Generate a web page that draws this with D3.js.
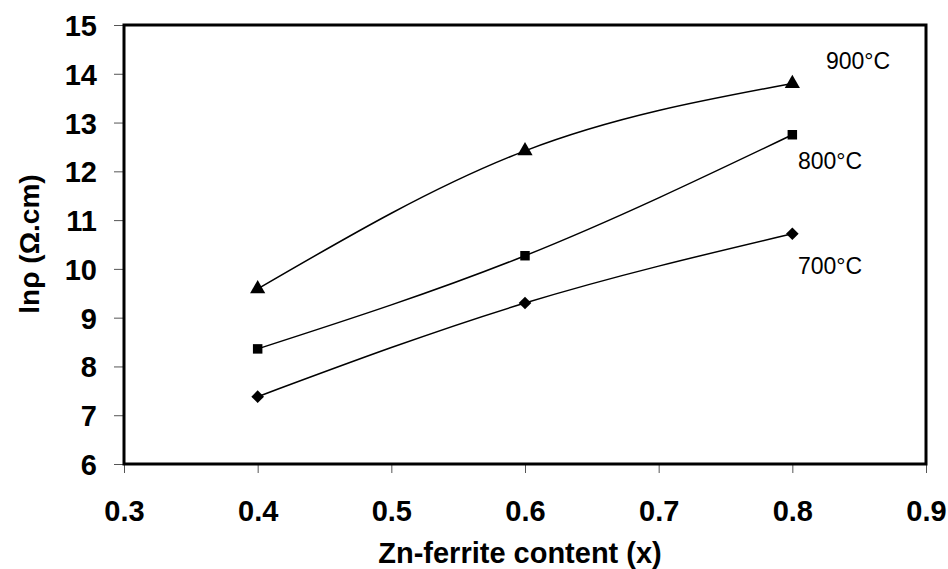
<!DOCTYPE html>
<html>
<head>
<meta charset="utf-8">
<script src="https://cdn.jsdelivr.net/npm/d3@7"></script>
<style>
  body { margin: 0; background: #fff; }
  text { font-family: Arial, "Liberation Sans", sans-serif; }
</style>
</head>
<body>
<svg id="chart"></svg>
<script>
// data
var xValues = [0.4, 0.6, 0.8];
var series900 = [9.59, 12.42, 13.8];
var series800 = [8.36, 10.27, 12.75];
var series700 = [7.38, 9.3, 10.72];
var seriesNames = ["900°C", "800°C", "700°C"];
var xTicks = [0.3, 0.4, 0.5, 0.6, 0.7, 0.8, 0.9];
var yTicks = [6, 7, 8, 9, 10, 11, 12, 13, 14, 15];

var width = 948, height = 569;
var margin = {left: 124, top: 25, right: 22, bottom: 105};

var svg = d3.select("#chart")
            .attr("width", width)
            .attr("height", height);

var x = d3.scaleLinear().domain([0.3, 0.9]).range([margin.left, width - margin.right]);
var y = d3.scaleLinear().domain([6, 15]).range([height - margin.bottom, margin.top]);

// axes
var xAxis = svg.append("g")
   .attr("transform", "translate(0," + (height - margin.bottom) + ")")
   .call(d3.axisBottom(x).tickValues(xTicks).tickFormat(d3.format(".1f")).tickSize(9).tickPadding(27));
var yAxis = svg.append("g")
   .attr("transform", "translate(" + margin.left + ",0)")
   .call(d3.axisLeft(y).tickValues(yTicks).tickFormat(d3.format("d")).tickSize(10).tickPadding(17));

[xAxis, yAxis].forEach(function(a)
{
  a.select(".domain").remove();
  a.selectAll(".tick line").attr("stroke", "#555").attr("stroke-width", 1);
  a.selectAll(".tick text")
   .attr("fill", "#000")
   .attr("font-size", "29px")
   .attr("font-weight", "bold");
});
yAxis.selectAll(".tick text").attr("dy", "0.36em");

// plot frame
svg.append("rect")
   .attr("x", margin.left)
   .attr("y", margin.top)
   .attr("width", width - margin.left - margin.right)
   .attr("height", height - margin.top - margin.bottom)
   .attr("fill", "none")
   .attr("stroke", "#000")
   .attr("stroke-width", 3);

var line = d3.line()
   .x(function(d) { return x(d[0]); })
   .y(function(d) { return y(d[1]); })
   .curve(d3.curveNatural);

var allSeries = [series900, series800, series700];
var symbols = [d3.symbolTriangle, d3.symbolSquare, d3.symbolSquare];
var symbolSizes = [100, 90, 80];
var symbolRot = [0, 0, 45];

allSeries.forEach(function(s, k)
{
  var pts = xValues.map(function(v, i) { return [v, s[i]]; });
  svg.append("path")
     .datum(pts)
     .attr("d", line)
     .attr("fill", "none")
     .attr("stroke", "#000")
     .attr("stroke-width", 1.5);
  svg.selectAll(".m" + k)
     .data(pts)
     .enter()
     .append("path")
     .attr("class", "m" + k)
     .attr("d", d3.symbol().type(symbols[k]).size(symbolSizes[k]))
     .attr("transform", function(d)
       { return "translate(" + x(d[0]) + "," + y(d[1]) + ") rotate(" + symbolRot[k] + ")"; })
     .attr("fill", "#000");
});

// series labels
var labelX = [826, 798, 798];
var labelY = [14.1, 12.05, 9.9];
svg.selectAll(".lab")
   .data(seriesNames)
   .enter()
   .append("text")
   .attr("class", "lab")
   .text(function(d) { return d; })
   .attr("x", function(d, i) { return labelX[i]; })
   .attr("y", function(d, i) { return y(labelY[i]); })
   .attr("font-size", "23px")
   .attr("fill", "#000");

// axis titles
svg.append("text")
   .text("Zn-ferrite content (x)")
   .attr("x", 520)
   .attr("y", 563)
   .attr("text-anchor", "middle")
   .attr("font-size", "29px")
   .attr("font-weight", "bold");

svg.append("text")
   .text("lnρ (Ω.cm)")
   .attr("transform", "translate(39,244) rotate(-90)")
   .attr("text-anchor", "middle")
   .attr("font-size", "28px")
   .attr("font-weight", "bold");
</script>
</body>
</html>
